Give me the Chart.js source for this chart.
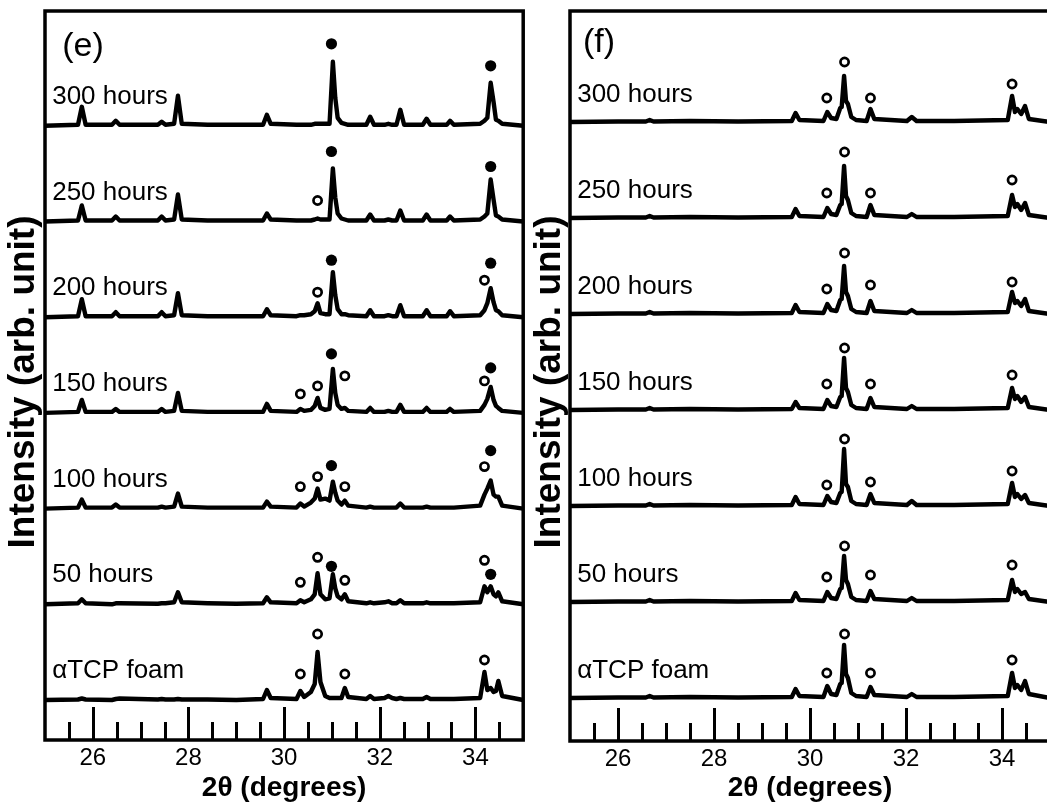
<!DOCTYPE html>
<html><head><meta charset="utf-8">
<script src="https://cdn.jsdelivr.net/npm/chart.js@4.4.1/dist/chart.umd.min.js"></script>
<style>
html,body{margin:0;padding:0;background:#fff;overflow:hidden;width:1047px;height:807px;}
canvas{position:absolute;top:0;}
#c1{left:0;}
#c2{left:525px;}
</style></head><body>
<canvas id="c1" width="530" height="807"></canvas>
<canvas id="c2" width="536" height="807"></canvas>
<script>
// ---------- labels ----------
const ROW_LABELS = ['\u03b1TCP foam', '50 hours', '100 hours', '150 hours', '200 hours', '250 hours', '300 hours'];
const X_TICK_LABELS = [26, 28, 30, 32, 34];
const X_TITLE = '2\u03b8 (degrees)';
const Y_TITLE = 'Intensity (arb. unit)';

// ---------- panel (e): 2-theta vertices and heights above each row's baseline ----------
const E_X = [25.00,25.69,25.77,25.85,26.40,26.48,26.56,27.36,27.44,27.52,27.70,27.78,27.86,28.40,29.00,29.56,29.64,29.72,
  30.26,30.34,30.42,30.56,30.64,30.70,30.76,30.86,30.95,31.02,31.07,31.12,31.20,31.27,31.34,31.72,31.80,31.88,
  32.10,32.18,32.26,32.35,32.43,32.51,32.90,32.98,33.06,33.40,33.47,33.55,34.10,34.19,34.25,34.32,34.38,34.43,34.48,34.56,35.00];
const E_ATCP = [0,0.5,1.5,0.5,0,1,1.5,0.5,1,0.5,0.5,1,0.5,0.5,0,1,10,2,1,9,3,8,16,48,18,4,2,2,2,2,2,12,3,1,4,1,2,4,2,1,2,1,1,3,1,1,1,1,2,28,10,12,8,9,19,4,0];
const E_50H  = [0,1,5,1,0,1,1,0.5,1,1,2,12,2,1,0.5,1,7,2,1,4,2,5,10,31,10,5,6,30,16,8,5,10,3,1,2,1,2,3,1,1,4,1,1,2,1,1,1,1,2,18,12,18,10,8,12,3,0];
const E_100H = [0,1,9,1,1,4,1,1,2,1,2,15,2,1,1,1,7,2,1,5,2,6,10,20,9,10,8,27,16,8,4,8,3,1,2,1,1,1,1,1,5,1,1,2,1,1,1,1,3,14,20,28,14,12,12,3,0];
const E_150H = [0,1,13,1,1,4,1,1,4,1,2,20,2,1,1,1,9,2,1,4,2,3,7,15,5,3,4,44,20,8,4,5,2,1,5,1,1,2,1,1,8,1,1,5,1,1,4,1,2,8,14,26,13,7,5,2,0];
const E_200H = [0,1,18,1,1,5,1,1,5,1,2,24,2,1,1,1,8,2,1,2,2,3,6,14,4,3,3,45,22,8,3,3,2,1,7,1,1,2,1,1,12,1,1,7,1,1,6,1,2,7,14,29,15,7,6,2,0];
const E_250H = [0,1,16,1,1,5,1,1,5,1,2,27,2,1,1,1,8,2,1,1,1,1,2,3,2,2,2,53,24,8,3,2,1,1,7,1,1,2,1,1,11,1,1,7,1,1,5,1,2,5,8,42,22,6,5,2,0];
const E_300H = [0,1,19,1,1,5,1,1,4,1,2,30,2,1,1,1,11,2,1,1,1,1,2,2,2,2,2,64,28,8,3,2,1,1,9,1,1,2,1,1,16,1,1,7,1,1,5,1,2,5,8,43,24,6,5,2,0];
// markers: [row, 2theta, height above row baseline]
const E_FILLED = [[6,30.99,82],[6,34.32,60],[5,30.99,70],[5,34.32,55],[4,30.99,57],[4,34.32,54],[3,30.99,59],[3,34.32,45],
  [2,30.99,43],[2,34.32,58],[1,30.99,38],[1,34.32,30]];
const E_OPEN = [[5,30.70,21],[4,30.70,25],[4,34.19,37],[3,30.34,19],[3,30.70,27],[3,31.27,37],[3,34.19,32],
  [2,30.34,22],[2,30.70,32],[2,31.27,22],[2,34.19,42],[1,30.34,22],[1,30.70,47],[1,31.27,24],[1,34.19,44],
  [0,30.70,66],[0,30.34,26],[0,31.27,26],[0,34.19,40]];

// ---------- panel (f) ----------
const F_X = [25.00,26.00,26.58,26.66,26.74,27.50,28.50,29.62,29.70,29.78,30.28,30.36,30.44,30.55,30.63,30.66,30.71,30.75,
  30.79,30.86,30.96,31.18,31.26,31.34,32.02,32.12,32.22,33.00,34.12,34.21,34.27,34.32,34.40,34.48,34.56,35.00];
const F_ATCP = [0,0.5,0.5,2,0.5,1,0.5,1,9,2,1,12,4,3,14,15,53,24,20,5,2,1,11,3,1,4,1,1,2,25,10,13,8,17,4,0];
const F_50H  = [0,0.5,0.5,2,0.5,1,0.5,1,9,2,1,10,4,3,13,14,46,22,18,5,2,1,11,3,1,4,1,1,2,22,10,13,8,10,3,0];
const F_100H = [0,0.5,0.5,2,0.5,1,0.5,1,9,2,1,10,4,3,13,14,57,22,19,5,2,1,12,3,1,5,1,1,2,23,9,12,7,11,3,0];
const F_150H = [0,0.5,0.5,2,0.5,1,0.5,1,8,2,1,10,4,3,13,14,52,22,18,5,2,1,12,3,1,4,1,1,2,22,11,14,8,13,3,0];
const F_200H = [0,0.5,0.5,2,0.5,1,0.5,1,9,2,1,10,4,3,14,15,48,22,18,5,2,1,13,3,1,4,1,1,2,22,11,13,8,15,3,0];
const F_250H = [0,0.5,0.5,2,0.5,1,0.5,1,9,2,1,10,4,3,13,14,52,22,18,5,2,1,13,3,1,4,1,1,2,23,11,14,8,15,3,0];
const F_300H = [0,0.5,0.5,2,0.5,1,0.5,1,9,2,1,10,4,3,14,15,46,21,18,5,2,1,13,3,1,5,1,1,2,26,10,13,8,16,3,0];
const F_FILLED = [];
const F_OPEN = [[0,30.72,64],[0,30.35,25],[0,31.26,25],[0,34.21,38],
  [1,30.72,56],[1,30.35,25],[1,31.26,27],[1,34.21,37],
  [2,30.72,67],[2,30.35,21],[2,31.26,24],[2,34.21,35],
  [3,30.72,62],[3,30.35,26],[3,31.26,26],[3,34.21,35],
  [4,30.72,61],[4,30.35,25],[4,31.26,29],[4,34.21,32],
  [5,30.72,66],[5,30.35,25],[5,31.26,25],[5,34.21,38],
  [6,30.72,60],[6,30.35,24],[6,31.26,24],[6,34.21,38]];

const FONT = '"Liberation Sans", Arial, Helvetica, sans-serif';
Chart.defaults.font.family = FONT;
Chart.defaults.color = '#000';

const decor = {
  id: 'decor',
  afterDraw(chart, args, o) {
    const {ctx, chartArea: a, scales: {x, y}} = chart;
    ctx.save();
    ctx.strokeStyle = '#000';
    ctx.lineCap = 'butt';
    ctx.lineWidth = 3;
    x.ticks.forEach(t => {
      const v = t.value;
      if (v <= x.min + 1e-6 || v >= x.max - 1e-6) return;
      const px = Math.round(x.getPixelForValue(v)) + 0.5;
      const major = Math.abs(v / 2 - Math.round(v / 2)) < 1e-6;
      ctx.beginPath();
      ctx.moveTo(px, a.bottom);
      ctx.lineTo(px, a.bottom - (major ? 33 : 18));
      ctx.stroke();
    });
    ctx.lineWidth = 3.5;
    ctx.strokeRect(a.left, a.top, a.right - a.left, a.bottom - a.top);
    ctx.fillStyle = '#000';
    ctx.textAlign = 'left';
    ctx.textBaseline = 'middle';
    ctx.font = '26px ' + FONT;
    ROW_LABELS.forEach((lab, i) => {
      ctx.fillText(lab, x.getPixelForValue(o.labelX), y.getPixelForValue(o.base + o.step * i + o.labelDy));
    });
    ctx.font = '34px ' + FONT;
    ctx.fillText(o.letter, x.getPixelForValue(o.letterX), y.getPixelForValue(o.letterY));
    ctx.save();
    ctx.translate(o.ytX, o.ytY);
    ctx.rotate(-Math.PI / 2);
    ctx.textAlign = 'center';
    ctx.font = 'bold 37px ' + FONT;
    ctx.fillText(Y_TITLE, 0, 0);
    ctx.restore();
    ctx.restore();
  }
};

function build(id, c) {
  const datasets = [];
  c.rows.forEach((h, i) => {
    const off = c.base + c.step * i;
    datasets.push({
      data: c.xs.map((xv, k) => ({x: xv, y: off + h[k]})),
      showLine: true, borderColor: '#000', borderWidth: 4.4, pointRadius: 0,
      tension: 0, borderJoinStyle: 'round', borderCapStyle: 'round'
    });
  });
  datasets.push({
    data: c.open.map(([r, xv, h]) => ({x: xv, y: c.base + c.step * r + h})),
    showLine: false, pointRadius: 4.1, pointBackgroundColor: '#fff', pointBorderColor: '#000', pointBorderWidth: 2.7
  });
  datasets.push({
    data: c.filled.map(([r, xv, h]) => ({x: xv, y: c.base + c.step * r + h})),
    showLine: false, pointRadius: 5.6, pointBackgroundColor: '#000', pointBorderColor: '#000', pointBorderWidth: 0
  });
  return new Chart(document.getElementById(id), {
    type: 'scatter',
    data: {datasets},
    plugins: [decor],
    options: {
      responsive: false, animation: false, events: [],
      layout: {padding: {top: 11, right: c.padR, left: 0, bottom: 0}},
      plugins: {legend: {display: false}, tooltip: {enabled: false},
        decor: {labelX: 25.15, labelDy: c.labelDy, base: c.base, step: c.step, letter: c.letter,
          letterX: c.letterX, letterY: c.letterY, ytX: c.ytX, ytY: 382}},
      scales: {
        x: {
          type: 'linear', min: 25, max: 35,
          afterFit: s => { s.height = c.xh; },
          grid: {display: false, drawTicks: false},
          border: {display: false},
          ticks: {stepSize: 0.5, autoSkip: false, maxRotation: 0, minRotation: 0, maxTicksLimit: 100, padding: 4,
            font: {size: 24},
            callback: v => X_TICK_LABELS.some(t => Math.abs(t - v) < 1e-6) ? String(Math.round(v)) : ''},
          title: {display: true, text: X_TITLE, font: {size: 28, weight: 'bold'}, padding: {top: 0, bottom: 2}}
        },
        y: {
          min: 0, max: c.ymax,
          afterFit: s => { s.width = 45; },
          grid: {display: false, drawTicks: false},
          border: {display: false},
          ticks: {display: false},
          title: {display: false}
        }
      }
    }
  });
}

build('c1', {xs: E_X, rows: [E_ATCP, E_50H, E_100H, E_150H, E_200H, E_250H, E_300H], base: 40, step: 95.7,
  filled: E_FILLED, open: E_OPEN, labelDy: 29, letter: '(e)', letterX: 25.36, letterY: 693, ymax: 729, xh: 67, ytX: 24, padR: 4});
build('c2', {xs: F_X, rows: [F_ATCP, F_50H, F_100H, F_150H, F_200H, F_250H, F_300H], base: 43, step: 96,
  filled: F_FILLED, open: F_OPEN, labelDy: 27, letter: '(f)', letterX: 25.27, letterY: 698, ymax: 730, xh: 66, ytX: 25, padR: 11});
</script>
</body></html>
